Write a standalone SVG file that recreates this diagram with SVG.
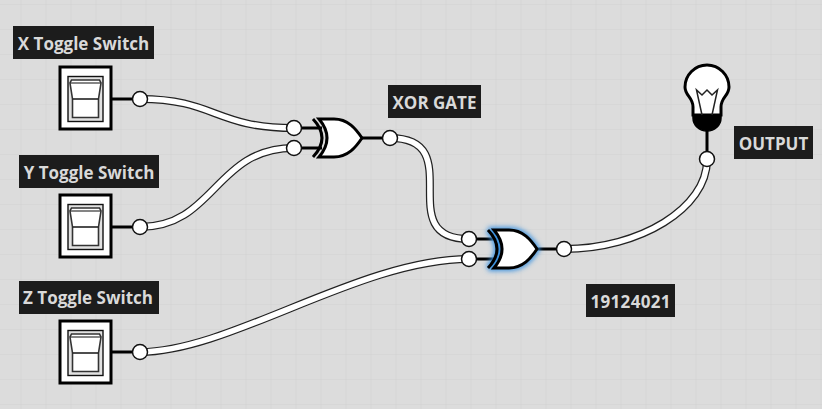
<svg xmlns="http://www.w3.org/2000/svg" width="822" height="409" viewBox="0 0 822 409">
<defs>
<pattern id="grid" width="25" height="25" patternUnits="userSpaceOnUse" x="-4.5" y="4"><path d="M25 0H0V25" fill="none" stroke="#d2d2d2" stroke-width="1.2"/></pattern>
<filter id="glow" x="-30%" y="-30%" width="160%" height="160%"><feGaussianBlur stdDeviation="2.8"/></filter>
<g id="switch">
<rect x="-25" y="-31" width="51" height="62" fill="#fff" stroke="#000" stroke-width="3"/>
<rect x="-17" y="-21.500" width="35" height="45" fill="#e2e2e2" stroke="#111" stroke-width="1.400"/>
<path d="M-12.500 19.500V1L-15-15-13.500-18H14.500L16-15 13.500 1V19.500Z" fill="#fff" stroke="#333" stroke-width="1.600"/>
<path d="M-15-15H16" fill="none" stroke="#333" stroke-width="1.200"/>
<path d="M-12.500 1H13.500" fill="none" stroke="#222" stroke-width="1.600"/>
</g>
<g id="xor">
<path d="M-9-19Q9 0-9 19" fill="none" stroke="#000" stroke-width="3"/>
<path d="M-3-19H12C26-19 34-9 40 0 34 9 26 19 12 19H-3Q13 0-3-19Z" fill="#fff" stroke="#000" stroke-width="3"/>
</g>
</defs>
<style>
text{font-family:"Open Sans","Noto Sans","DejaVu Sans",sans-serif;font-weight:700;font-size:17px;fill:#d9d9d9;text-anchor:middle}
.lb{fill:#1c1c1c}
.wo{fill:none;stroke:#222;stroke-width:8}
.wi{fill:none;stroke:#fff;stroke-width:5.500}
.st{fill:none;stroke:#000;stroke-width:3}
.pin{fill:#fff;stroke:#111;stroke-width:1.500}
</style>
<rect width="822" height="409" fill="#dcdcdc"/>
<rect width="822" height="409" fill="url(#grid)"/>
<g id="connectors">
<path class="st" d="M111 99H140M111 227H140M111 352H140M294 128H322M294 148H322M362 138H390M469 239H497M469 259H497M537 249H564M707 128V160"/>
<path class="wo" d="M140 99C215 99 215 128 294 128M140 227C215 227 215 148 294 148M390 138C470 138 390 239 469 239M140 352C230 352 360 259 469 259M564 249C640 249 707 208 707 160"/>
<path class="wi" d="M140 99C215 99 215 128 294 128M140 227C215 227 215 148 294 148M390 138C470 138 390 239 469 239M140 352C230 352 360 259 469 259M564 249C640 249 707 208 707 160"/>
</g>
<g id="x-switch"><rect class="lb" x="13" y="26" width="141" height="33"/><text x="83.500" y="50">X Toggle Switch</text><use href="#switch" x="85" y="98"/><circle class="pin" cx="140" cy="99" r="7.500"/></g>
<g id="y-switch"><rect class="lb" x="19" y="155" width="140" height="33"/><text x="89" y="179">Y Toggle Switch</text><use href="#switch" x="85" y="226"/><circle class="pin" cx="140" cy="227" r="7.500"/></g>
<g id="z-switch"><rect class="lb" x="19" y="281" width="140" height="33"/><text x="88" y="304">Z Toggle Switch</text><use href="#switch" x="85" y="352"/><circle class="pin" cx="140" cy="352" r="7.500"/></g>
<g id="xor1"><use href="#xor" x="322" y="138"/><circle class="pin" cx="294" cy="128" r="7.500"/><circle class="pin" cx="294" cy="148" r="7.500"/><circle class="pin" cx="390" cy="138" r="7.500"/></g>
<g id="xor1-label"><rect class="lb" x="388" y="85" width="93" height="33"/><text x="434.500" y="109">XOR GATE</text></g>
<g id="xor2"><g filter="url(#glow)"><path d="M-9-19Q9 0-9 19M-3-19H12C26-19 34-9 40 0 34 9 26 19 12 19H-3Q13 0-3-19Z" transform="translate(497 249)" fill="none" stroke="#3a92e0" stroke-width="6"/></g><use href="#xor" x="497" y="249"/><circle class="pin" cx="469" cy="239" r="7.500"/><circle class="pin" cx="469" cy="259" r="7.500"/><circle class="pin" cx="564" cy="249" r="7.500"/></g>
<g id="bulb">
<path d="M693 115V107C693 97 685 96 685 87A22 22 0 0 1 729 87C729 96 721 97 721 107V115Z" fill="#fff" stroke="#000" stroke-width="3"/>
<path d="M693 115H721V118A14 13 0 0 1 693 118Z" fill="#000" stroke="#000" stroke-width="1.500"/>
<path d="M702 115 696.500 90 702 95 707 90 712 95 717.500 90 712 115" fill="none" stroke="#222" stroke-width="1.500"/>
<circle class="pin" cx="707" cy="159" r="7.500"/>
</g>
<g id="output-label"><rect class="lb" x="734" y="126" width="79" height="33"/><text x="773.500" y="150">OUTPUT</text></g>
<g id="id-label"><rect class="lb" x="586" y="284" width="89" height="33"/><text x="630.500" y="308" textLength="80">19124021</text></g>
</svg>
